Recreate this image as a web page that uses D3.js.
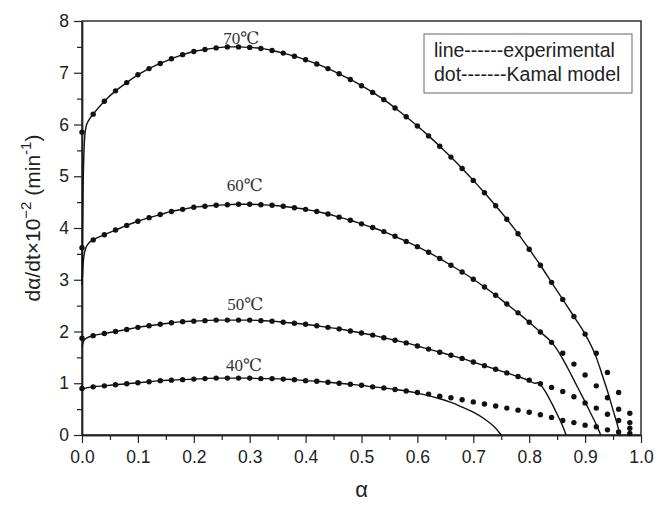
<!DOCTYPE html>
<html><head><meta charset="utf-8">
<script src="https://cdn.jsdelivr.net/npm/d3@7/dist/d3.min.js"></script>
<style>body{margin:0;background:#fff}svg{display:block}</style>
</head><body><svg id="c" width="657" height="505"></svg>
<script>
// ---- data ----
const alphaDots = [0,0.02,0.04,0.06,0.08,0.10,0.12,0.14,0.16,0.18,0.20,0.22,0.24,0.26,0.28,0.30,0.32,0.34,0.36,0.38,0.40,0.42,0.44,0.46,0.48,0.50,0.52,0.54,0.56,0.58,0.60,0.62,0.64,0.66,0.68,0.70,0.72,0.74,0.76,0.78,0.80,0.82,0.84,0.86,0.88,0.90,0.92,0.94,0.96,0.98];
const dots70 = [5.85,6.20,6.45,6.65,6.81,6.96,7.08,7.18,7.27,7.35,7.41,7.45,7.48,7.50,7.50,7.49,7.47,7.43,7.38,7.32,7.25,7.17,7.08,6.98,6.87,6.75,6.62,6.48,6.32,6.15,5.97,5.78,5.58,5.37,5.15,4.92,4.68,4.43,4.17,3.89,3.59,3.28,2.95,2.62,2.29,1.95,1.58,1.21,0.82,0.42];
const dots60 = [3.62,3.77,3.87,3.96,4.05,4.13,4.20,4.26,4.32,4.36,4.40,4.42,4.44,4.45,4.46,4.46,4.45,4.44,4.42,4.39,4.36,4.32,4.27,4.21,4.15,4.08,4.01,3.93,3.84,3.74,3.64,3.53,3.41,3.28,3.15,3.01,2.86,2.70,2.53,2.36,2.18,1.99,1.79,1.58,1.37,1.16,0.95,0.72,0.50,0.24];
const dots50 = [1.87,1.92,1.96,2.00,2.04,2.08,2.11,2.14,2.17,2.19,2.20,2.21,2.22,2.22,2.22,2.22,2.21,2.20,2.18,2.16,2.14,2.11,2.08,2.05,2.01,1.97,1.93,1.88,1.83,1.78,1.72,1.66,1.60,1.54,1.48,1.41,1.34,1.27,1.20,1.13,1.06,0.99,0.92,0.84,0.74,0.62,0.52,0.40,0.28,0.13];
const dots40 = [0.90,0.93,0.95,0.97,0.99,1.01,1.03,1.05,1.06,1.07,1.08,1.09,1.10,1.10,1.10,1.10,1.09,1.09,1.08,1.07,1.05,1.04,1.02,1.00,0.98,0.96,0.93,0.91,0.88,0.85,0.82,0.79,0.75,0.72,0.68,0.64,0.60,0.56,0.52,0.48,0.44,0.39,0.34,0.28,0.24,0.19,0.16,0.10,0.06,0.03];

// experimental lines: [alpha, value]
const line70 = [[0,3.0],[0.002,4.8],[0.004,5.6],[0.007,5.95],[0.012,6.08],[0.02,6.20],[0.04,6.45],[0.06,6.65],[0.08,6.81],[0.10,6.96],[0.12,7.08],[0.14,7.18],[0.16,7.27],[0.18,7.35],[0.20,7.41],[0.22,7.45],[0.24,7.48],[0.26,7.50],[0.28,7.50],[0.30,7.49],[0.32,7.47],[0.34,7.43],[0.36,7.38],[0.38,7.32],[0.40,7.25],[0.42,7.17],[0.44,7.08],[0.46,6.98],[0.48,6.87],[0.50,6.75],[0.52,6.62],[0.54,6.48],[0.56,6.32],[0.58,6.15],[0.60,5.97],[0.62,5.78],[0.64,5.58],[0.66,5.37],[0.68,5.15],[0.70,4.92],[0.72,4.68],[0.74,4.43],[0.76,4.17],[0.78,3.89],[0.80,3.59],[0.82,3.28],[0.84,2.95],[0.86,2.62],[0.88,2.29],[0.90,1.95],[0.92,1.50],[0.93,1.18],[0.94,0.85],[0.95,0.48],[0.96,0.10],[0.962,0]];
const line60 = [[0,2.9],[0.002,3.3],[0.005,3.55],[0.01,3.68],[0.02,3.77],[0.04,3.87],[0.06,3.96],[0.08,4.05],[0.10,4.13],[0.12,4.20],[0.14,4.26],[0.16,4.32],[0.18,4.36],[0.20,4.40],[0.22,4.42],[0.24,4.44],[0.26,4.45],[0.28,4.46],[0.30,4.46],[0.32,4.45],[0.34,4.44],[0.36,4.42],[0.38,4.39],[0.40,4.36],[0.42,4.32],[0.44,4.27],[0.46,4.21],[0.48,4.15],[0.50,4.08],[0.52,4.01],[0.54,3.93],[0.56,3.84],[0.58,3.74],[0.60,3.64],[0.62,3.53],[0.64,3.41],[0.66,3.28],[0.68,3.15],[0.70,3.01],[0.72,2.86],[0.74,2.70],[0.76,2.53],[0.78,2.36],[0.80,2.18],[0.82,1.99],[0.84,1.79],[0.85,1.65],[0.86,1.47],[0.87,1.27],[0.88,1.06],[0.89,0.85],[0.90,0.64],[0.91,0.42],[0.92,0.20],[0.928,0]];
const line50 = [[0,1.7],[0.003,1.82],[0.01,1.88],[0.02,1.92],[0.04,1.96],[0.06,2.00],[0.08,2.04],[0.10,2.08],[0.12,2.11],[0.14,2.14],[0.16,2.17],[0.18,2.19],[0.20,2.20],[0.22,2.21],[0.24,2.22],[0.26,2.22],[0.28,2.22],[0.30,2.22],[0.32,2.21],[0.34,2.20],[0.36,2.18],[0.38,2.16],[0.40,2.14],[0.42,2.11],[0.44,2.08],[0.46,2.05],[0.48,2.01],[0.50,1.97],[0.52,1.93],[0.54,1.88],[0.56,1.83],[0.58,1.78],[0.60,1.72],[0.62,1.66],[0.64,1.60],[0.66,1.54],[0.68,1.48],[0.70,1.41],[0.72,1.34],[0.74,1.27],[0.76,1.20],[0.78,1.13],[0.80,1.05],[0.81,1.00],[0.815,1.01],[0.82,0.97],[0.83,0.82],[0.84,0.62],[0.85,0.40],[0.86,0.17],[0.866,0]];
const line40 = [[0,0.85],[0.005,0.90],[0.02,0.93],[0.04,0.95],[0.06,0.97],[0.08,0.99],[0.10,1.01],[0.12,1.03],[0.14,1.05],[0.16,1.06],[0.18,1.07],[0.20,1.08],[0.22,1.09],[0.24,1.10],[0.26,1.10],[0.28,1.10],[0.30,1.10],[0.32,1.09],[0.34,1.09],[0.36,1.08],[0.38,1.07],[0.40,1.05],[0.42,1.04],[0.44,1.02],[0.46,1.00],[0.48,0.98],[0.50,0.96],[0.52,0.93],[0.54,0.91],[0.56,0.88],[0.58,0.85],[0.60,0.81],[0.62,0.76],[0.64,0.70],[0.66,0.63],[0.68,0.54],[0.70,0.44],[0.72,0.31],[0.74,0.13],[0.75,0]];

const seriesLabels = ["70℃","60℃","50℃","40℃"];
const labelPos = [[0.285,7.55],[0.291,4.71],[0.292,2.42],[0.29,1.24]];
const xTicks = [0,0.1,0.2,0.3,0.4,0.5,0.6,0.7,0.8,0.9,1.0];
const yTicks = [0,1,2,3,4,5,6,7,8];
const legendLines = ["line------experimental","dot-------Kamal model"];

// ---- layout ----
const svg = d3.select("#c");
const L = 82, R = 641, T = 21, B = 435;
const x = d3.scaleLinear().domain([0,1]).range([L,R]);
const y = d3.scaleLinear().domain([0,8]).range([B,T]);
const font = "Liberation Sans, Arial, sans-serif";

// frame
svg.append("rect").attr("x",L).attr("y",T).attr("width",R-L).attr("height",B-T)
  .attr("fill","none").attr("stroke","#222").attr("stroke-width",1.4);

// axes
const xAxis = d3.axisBottom(x).tickValues(xTicks).tickFormat(d3.format(".1f")).tickSizeInner(8).tickSizeOuter(0).tickPadding(8);
svg.append("g").attr("transform",`translate(0,${B})`).call(xAxis);
const xMinor = d3.axisBottom(x).tickValues(d3.range(0.05,1,0.1)).tickFormat("").tickSizeInner(5).tickSizeOuter(0);
svg.append("g").attr("transform",`translate(0,${B})`).call(xMinor);
const yAxis = d3.axisLeft(y).tickValues(yTicks).tickFormat(d3.format("d")).tickSizeInner(8).tickSizeOuter(0).tickPadding(5);
svg.append("g").attr("transform",`translate(${L},0)`).call(yAxis);
const yMinor = d3.axisLeft(y).tickValues(d3.range(0.5,8,1)).tickFormat("").tickSizeInner(5).tickSizeOuter(0);
svg.append("g").attr("transform",`translate(${L},0)`).call(yMinor);
svg.selectAll(".domain").attr("stroke","#222").attr("stroke-width",1.4);
svg.selectAll(".tick line").attr("stroke","#222").attr("stroke-width",1.2);
svg.selectAll(".tick text").attr("font-family",font).attr("font-size",17.5).attr("fill","#222");

// lines
const lineGen = d3.line().x(d=>x(d[0])).y(d=>y(d[1])).curve(d3.curveMonotoneX);
[line70,line60,line50,line40].forEach(ln=>{
  svg.append("path").attr("d",lineGen(ln)).attr("fill","none").attr("stroke","#111").attr("stroke-width",1.4);
});
// dots
[dots70,dots60,dots50,dots40].forEach(ds=>{
  svg.append("g").selectAll("circle").data(ds).join("circle")
    .attr("cx",(d,i)=>x(alphaDots[i])).attr("cy",d=>y(d)).attr("r",2.7).attr("fill","#111");
});

// temperature labels
seriesLabels.forEach((t,i)=>{
  svg.append("text").attr("x",x(labelPos[i][0])).attr("y",y(labelPos[i][1]))
    .attr("text-anchor","middle").attr("font-family","Liberation Serif, DejaVu Serif, serif")
    .attr("font-size",17).attr("fill","#333").text(t);
});

// legend
svg.append("rect").attr("x",424).attr("y",34).attr("width",208).attr("height",59)
  .attr("fill","#fff").attr("stroke","#666").attr("stroke-width",1);
legendLines.forEach((t,i)=>{
  svg.append("text").attr("x",434).attr("y",57+i*24).attr("font-family",font).attr("font-size",19.5).attr("fill","#222").text(t);
});

// axis titles
svg.append("text").attr("x",(L+R)/2).attr("y",497).attr("text-anchor","middle")
  .attr("font-family",font).attr("font-size",22).attr("fill","#222").text("α");
const yt = svg.append("text").attr("transform","translate(40,218) rotate(-90)").attr("text-anchor","middle")
  .attr("font-family",font).attr("font-size",21).attr("fill","#222");
yt.append("tspan").text("dα/dt×10");
yt.append("tspan").attr("dy",-9).attr("font-size",15).text("−2");
yt.append("tspan").attr("dy",9).text(" (min");
yt.append("tspan").attr("dy",-9).attr("font-size",15).text("-1");
yt.append("tspan").attr("dy",9).text(")");
</script></body></html>
